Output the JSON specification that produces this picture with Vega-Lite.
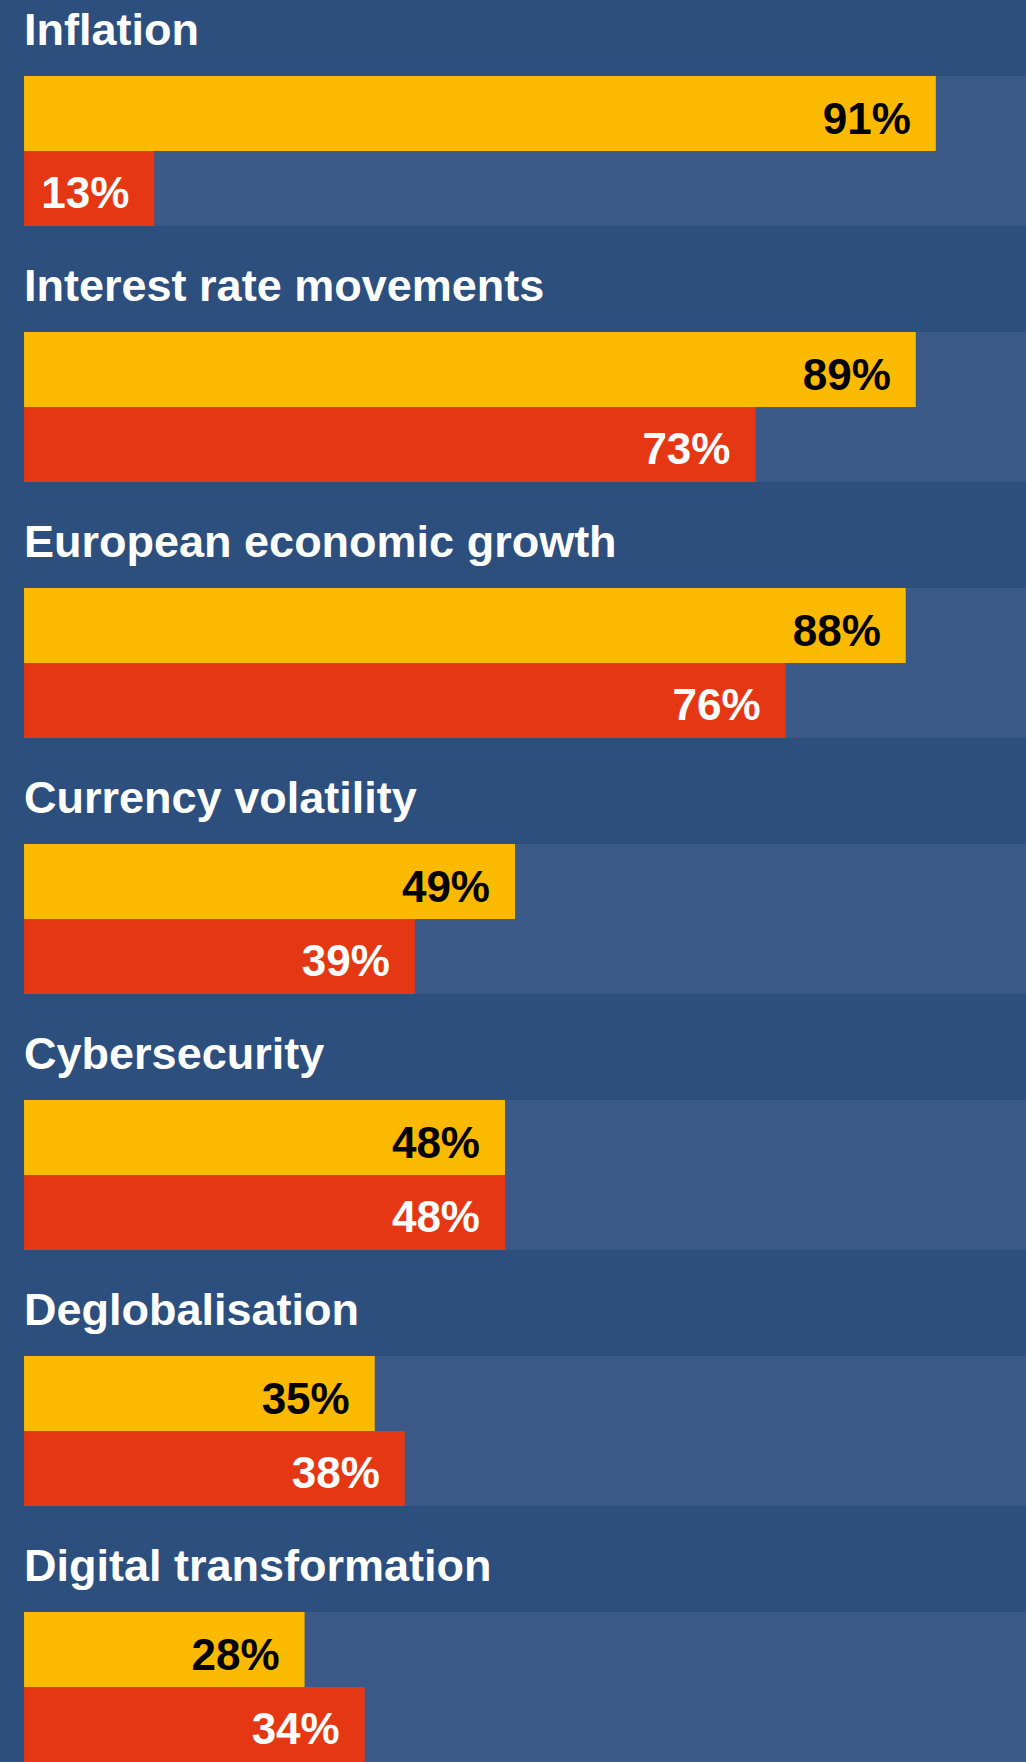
{
  "$schema": "https://vega.github.io/schema/vega-lite/v6.json",
  "width": 1026,
  "height": 1762,
  "autosize": {"type": "fit", "contains": "padding"},
  "padding": 0,
  "background": "#2c4f7e",
  "config": {
    "view": {"stroke": null},
    "text": {"font": "Liberation Sans", "fontWeight": "bold", "fontSize": 44}
  },
  "data": {
    "values": [
      {"risk": "Inflation", "series": "First", "value": 0.91},
      {"risk": "Inflation", "series": "Second", "value": 0.13},
      {"risk": "Interest rate movements", "series": "First", "value": 0.89},
      {"risk": "Interest rate movements", "series": "Second", "value": 0.73},
      {"risk": "European economic growth", "series": "First", "value": 0.88},
      {"risk": "European economic growth", "series": "Second", "value": 0.76},
      {"risk": "Currency volatility", "series": "First", "value": 0.49},
      {"risk": "Currency volatility", "series": "Second", "value": 0.39},
      {"risk": "Cybersecurity", "series": "First", "value": 0.48},
      {"risk": "Cybersecurity", "series": "Second", "value": 0.48},
      {"risk": "Deglobalisation", "series": "First", "value": 0.35},
      {"risk": "Deglobalisation", "series": "Second", "value": 0.38},
      {"risk": "Digital transformation", "series": "First", "value": 0.28},
      {"risk": "Digital transformation", "series": "Second", "value": 0.34}
    ]
  },
  "layer": [
    {
      "mark": {"type": "bar", "color": "#3b5a88"},
      "encoding": {
        "y": {"field": "risk", "type": "nominal", "sort": null, "scale": {"paddingInner": 0.414, "paddingOuter": 0.1484, "align": 1}, "axis": null},
        "x": {"datum": 1, "type": "quantitative", "scale": {"domain": [-0.024, 1], "nice": false, "zero": false}, "axis": null}
      }
    },
    {
      "mark": {"type": "bar"},
      "encoding": {
        "y": {"field": "risk", "type": "nominal", "sort": null, "axis": null},
        "yOffset": {"field": "series", "type": "nominal", "scale": {"domain": ["First", "Second"], "paddingInner": 0, "paddingOuter": 0}},
        "x": {"field": "value", "type": "quantitative", "axis": null},
        "color": {"field": "series", "type": "nominal", "scale": {"domain": ["First", "Second"], "range": ["#fbb900", "#e63715"]}, "legend": null}
      }
    },
    {
      "transform": [{"filter": "datum.series === 'First'"}],
      "mark": {"type": "text", "align": "right", "baseline": "alphabetic", "dx": -25, "dy": 21, "color": "#000000"},
      "encoding": {
        "y": {"field": "risk", "type": "nominal", "sort": null, "axis": null},
        "yOffset": {"field": "series", "type": "nominal", "scale": {"domain": ["First", "Second"], "paddingInner": 0, "paddingOuter": 0}},
        "x": {"field": "value", "type": "quantitative", "axis": null},
        "text": {"field": "value", "type": "quantitative", "format": ".0%"}
      }
    },
    {
      "transform": [{"filter": "datum.series === 'Second'"}],
      "mark": {"type": "text", "align": "right", "baseline": "alphabetic", "dx": -25, "dy": 20, "color": "#ffffff"},
      "encoding": {
        "y": {"field": "risk", "type": "nominal", "sort": null, "axis": null},
        "yOffset": {"field": "series", "type": "nominal", "scale": {"domain": ["First", "Second"], "paddingInner": 0, "paddingOuter": 0}},
        "x": {"field": "value", "type": "quantitative", "axis": null},
        "text": {"field": "value", "type": "quantitative", "format": ".0%"}
      }
    },
    {
      "transform": [{"filter": "datum.series === 'First'"}],
      "mark": {"type": "text", "align": "left", "baseline": "alphabetic", "dy": -31, "fontSize": 45, "color": "#ffffff"},
      "encoding": {
        "y": {"field": "risk", "type": "nominal", "sort": null, "bandPosition": 0, "axis": null},
        "x": {"datum": 0, "type": "quantitative", "axis": null},
        "text": {"field": "risk", "type": "nominal"}
      }
    }
  ]
}
